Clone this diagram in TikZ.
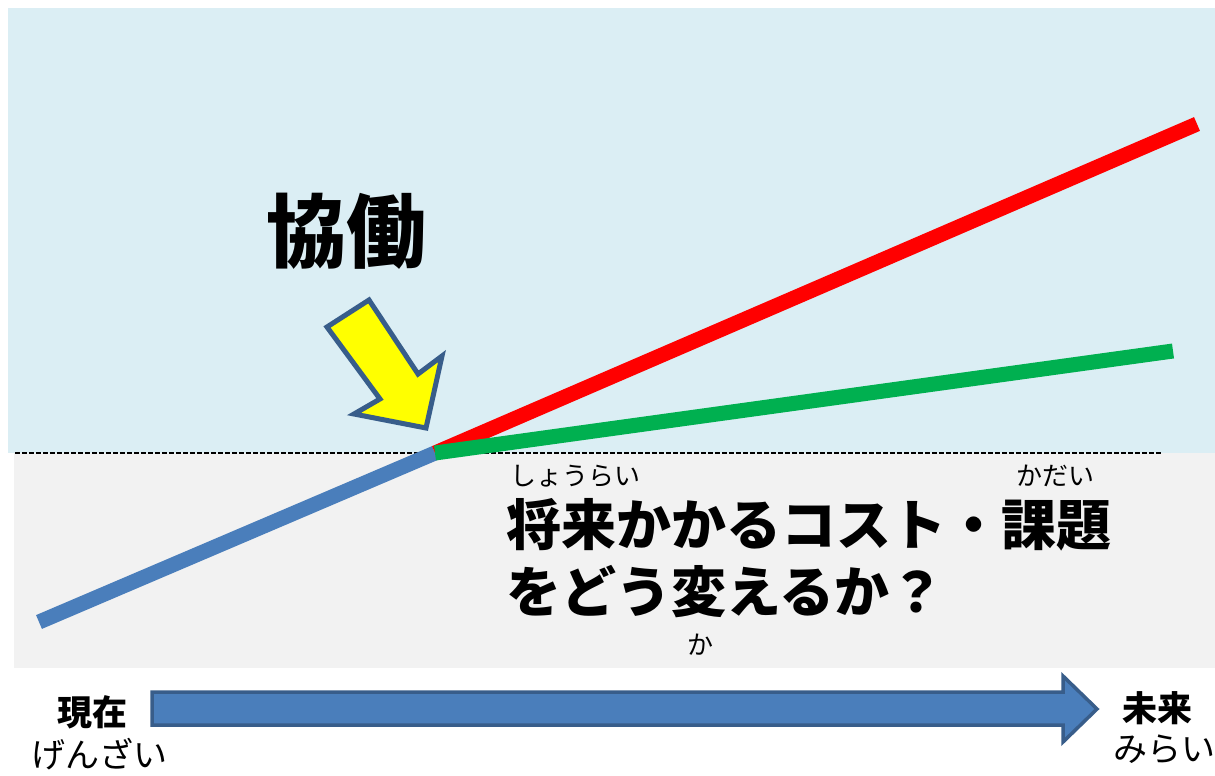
\documentclass[tikz,border=0pt]{standalone}
\usepackage{fontspec}
\newfontfamily\cjk{Noto Sans CJK JP}
\definecolor{skyb}{HTML}{DBEEF4}
\definecolor{grayb}{HTML}{F2F2F2}
\definecolor{lineblue}{HTML}{4A7EBB}
\definecolor{edgeblue}{HTML}{385D8A}
\definecolor{lred}{HTML}{FF0000}
\definecolor{lgreen}{HTML}{00B050}
\definecolor{lyellow}{HTML}{FFFF00}
\begin{document}
\begin{tikzpicture}[x=1pt,y=-1pt,
  trend/.style={line width=15pt,line cap=butt},
  txt/.style={inner sep=0pt,font=\cjk},
  bigtxt/.style={txt,font=\cjk\bfseries\fontsize{55}{60}\selectfont,anchor=west},
  rubytxt/.style={txt,font=\cjk\fontsize{26}{28}\selectfont,anchor=west},
  labb/.style={txt,font=\cjk\bfseries\fontsize{35}{38}\selectfont},
  labr/.style={txt,font=\cjk\fontsize{34}{38}\selectfont},
  shapearrow/.style={draw=edgeblue,line join=miter}]
\useasboundingbox (0,0) rectangle (1215,776);
\fill[white] (0,0) rectangle (1215,776);
% backgrounds
\fill[skyb] (8,8) rectangle (1215,453);
\fill[grayb] (14,453) rectangle (1215,668);
% dashed baseline
\coordinate (dl) at (15,453);
\coordinate (dr) at (1162,453);
\draw[line width=1.6pt,dash pattern=on 4.5pt off 2.5pt] (dl) -- (dr);
% trend lines
\coordinate (start) at (39,622);
\coordinate (pivot) at (435,453);
\coordinate (redend) at (1197,124);
\coordinate (greenend) at (1173,351);
\draw[trend,lineblue] (start) -- (pivot);
\draw[trend,lred] (pivot) -- (redend);
\draw[trend,lgreen] (pivot) -- (greenend);
% yellow arrow
\draw[shapearrow,fill=lyellow,line width=5pt]
  (369,300) -- (418,374) -- (442,356) -- (426,428) -- (354,414) -- (380,399) -- (327,327) -- cycle;
% texts
\node[txt,font=\cjk\bfseries\fontsize{80}{90}\selectfont,anchor=west] (kyodo) at (266,231) {協働};
\node[rubytxt] (r1) at (510,476) {しょうらい};
\node[rubytxt] (r2) at (1016,476) {かだい};
\node[bigtxt] (m1) at (506,525) {将来かかるコスト・課題};
\node[bigtxt] (m2) at (506,592) {をどう変えるか？};
\node[rubytxt] (r3) at (687,645) {か};
% time axis
\draw[shapearrow,fill=lineblue,line width=3.5pt]
  (152,692) -- (1063,692) -- (1063,676) -- (1097,709) -- (1063,742) -- (1063,725) -- (152,725) -- cycle;
\node[labb] (now) at (92,712) {現在};
\node[labr] (nowr) at (99,754) {げんざい};
\node[labb] (fut) at (1157,708) {未来};
\node[labr] (futr) at (1164,749) {みらい};
\end{tikzpicture}
\end{document}
